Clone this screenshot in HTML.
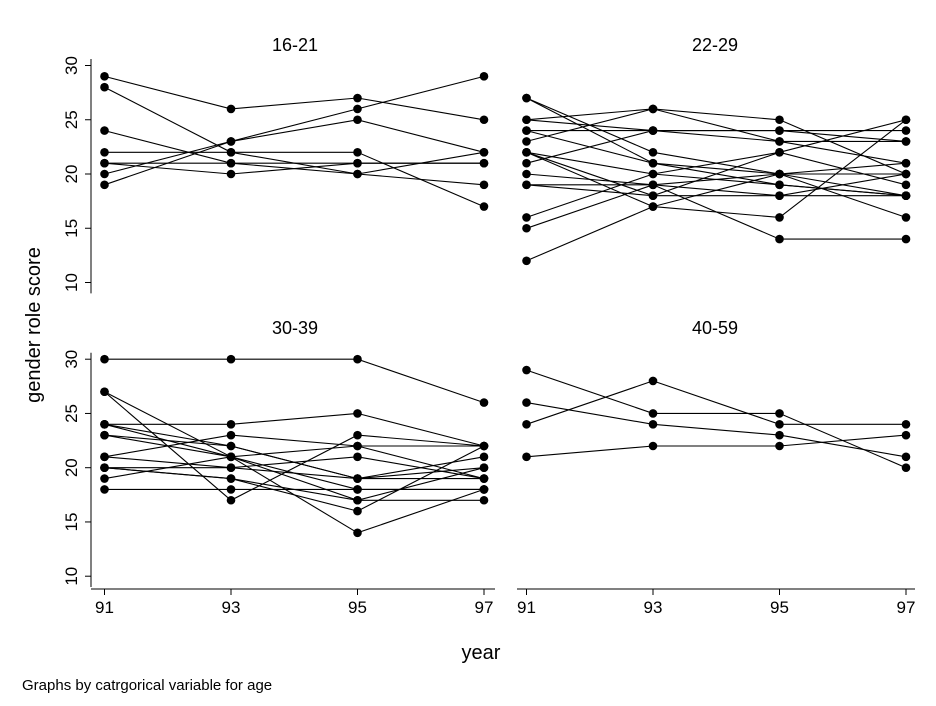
<!DOCTYPE html>
<html><head><meta charset="utf-8"><style>
body{margin:0;background:#fff;}
svg text{font-family:"Liberation Sans",sans-serif;fill:#000;}
</style></head><body>
<svg id="c" width="936" height="701" xmlns="http://www.w3.org/2000/svg"></svg>
<script>
const years=[91,93,95,97];
const panelTitles=["16-21","22-29","30-39","40-59"];
const yTicks=[10,15,20,25,30];
const series1=[[29,26,27,25],[28,22,20,19],[24,21,21,21],[22,22,22,17],[21,20,21,21],[20,23,26,29],[19,23,25,22],[21,21,20,22]];
const series2=[[27,21,19,18],[27,22,20,16],[25,24,23,23],[25,26,23,21],[24,24,24,24],[23,26,25,20],[22,18,22,25],[22,20,19,18],[21,24,24,23],[20,19,14,14],[19,19,20,20],[19,18,18,18],[16,20,22,19],[15,19,18,20],[12,17,16,25],[22,17,20,21],[24,21,20,18]];
const series3=[[30,30,30,26],[27,17,23,22],[27,21,14,18],[24,24,25,22],[24,22,19,19],[24,21,17,17],[23,22,19,20],[23,21,18,18],[21,23,22,22],[21,20,21,19],[20,20,19,21],[20,19,16,22],[19,21,22,19],[18,18,18,18],[20,19,17,20]];
const series4=[[29,25,25,20],[26,24,23,21],[24,28,24,24],[21,22,22,23]];
const allSeries=[series1,series2,series3,series4];
const NS="http://www.w3.org/2000/svg";
const svg=document.getElementById('c');
function el(t,a,txt){const e=document.createElementNS(NS,t);for(const k in a)e.setAttribute(k,a[k]);if(txt!==undefined)e.textContent=txt;svg.appendChild(e);return e;}
const panels=[{x0:104.5,y20:174,title:[295,51]},{x0:526.5,y20:174,title:[715,51]},{x0:104.5,y20:467.7,title:[295,334]},{x0:526.5,y20:467.7,title:[715,334]}];
const xStep=126.5, yUnit=10.85;
function xs(p,yr){return panels[p].x0+(yr-91)/2*xStep;}
function ys(p,v){return panels[p].y20-(v-20)*yUnit;}
panels.forEach((P,p)=>{
  const t=el('text',{x:P.title[0],y:P.title[1],'text-anchor':'middle','font-size':18},panelTitles[p]);
  
  
  if(p%2===0){
    const ax=el('line',{x1:91,x2:91,y1:ys(p,30.6),y2:ys(p,9),stroke:'#000','stroke-width':1});
    
    
    yTicks.forEach(v=>{
      const y=ys(p,v);
      const tk=el('line',{x1:85,x2:91,y1:y,y2:y,stroke:'#000'});
      
      
      const lb=el('text',{x:0,y:0,'text-anchor':'middle','font-size':17,transform:`translate(77,${y}) rotate(-90)`},String(v));
      
      
    });
  }
  if(p>=2){
    const x1=p===2?91:517, x2=p===2?495:915;
    const ax=el('line',{x1:x1,x2:x2,y1:589,y2:589,stroke:'#000'});
    
    
    years.forEach(yr=>{
      const x=xs(p,yr);
      const tk=el('line',{x1:x,x2:x,y1:589,y2:595,stroke:'#000'});
      
      
      const lb=el('text',{x:x,y:613,'text-anchor':'middle','font-size':17},String(yr));
      
      
    });
  }
  allSeries[p].forEach(s=>{
    const pts=s.map((v,i)=>xs(p,years[i]).toFixed(1)+','+ys(p,v).toFixed(1)).join(' ');
    const pl=el('polyline',{points:pts,fill:'none',stroke:'#000','stroke-width':1.1});
    
    
    s.forEach((v,i)=>{
      const c=el('circle',{cx:xs(p,years[i]),cy:ys(p,v),r:4.3,fill:'#000'});
      
      
    });
  });
});
const yt=el('text',{x:0,y:0,'text-anchor':'middle','font-size':20,transform:'translate(40,325) rotate(-90)'},'gender role score');


const xt=el('text',{x:481,y:659,'text-anchor':'middle','font-size':20},'year');


const nt=el('text',{x:22,y:690,'font-size':15},'Graphs by  catrgorical variable for age');


</script>
</body></html>
